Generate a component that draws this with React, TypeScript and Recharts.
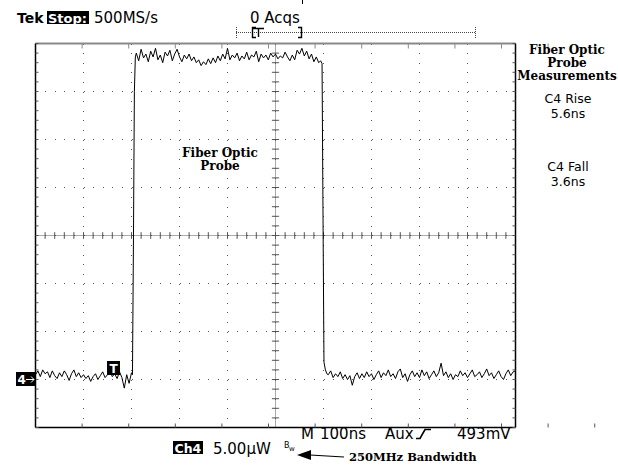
import { LineChart, Line, XAxis, YAxis, CartesianGrid, ReferenceLine } from 'recharts'

// sample spacing of the scope record, ns
const SAMPLE_NS = 5

// trace values in µW (5 µW/div, ground at the "4→" marker)
const BASE_BEFORE = [
  0.5, 0.9, 0.3, 1.0, 0.6, 0.8, 0.2, 0.9, 0.4, 0.1,
  0.7, 0.3, 0.9, 0.5, -0.1, 0.6, 1.0, 0.3, 0.7, 0.2,
  0.5, 0.1, 0.4, -0.2, 0.3, 0.6, 0.0, 0.4, 0.8, 0.2,
  0.5, 0.9, 0.3, 0.6, 0.1, 0.8, 0.2, -0.9, 0.5, -0.4,
  0.7,
] // t = 0..200 ns

const RISE_EDGE = [
  [202, 0.5],
  [204, 14],
  [206, 30],
  [208, 33.6],
]

const PULSE_TOP = [
  34.0, 33.2, 34.4, 33.5, 33.9, 33.1, 34.2, 33.6, 34.5, 33.3,
  33.8, 33.0, 34.1, 33.7, 34.3, 33.2, 33.9, 34.4, 33.6, 33.1,
  33.8, 33.4, 33.9, 33.2, 33.6, 33.0, 33.3, 32.7, 33.1, 32.8,
  33.4, 32.9, 33.5, 33.0, 33.7, 33.2, 33.9, 33.4, 34.5, 33.3,
  33.8, 33.5, 34.0, 33.2, 33.7, 33.4, 34.1, 33.3, 33.8, 33.6,
  34.2, 33.1, 33.9, 33.5, 33.8, 33.3, 34.0, 33.6, 33.9, 33.4,
  33.7, 33.5, 34.1, 33.6, 33.2, 33.8, 33.3, 34.3, 33.9, 34.5,
  33.7, 34.2, 33.4, 33.9, 33.1, 33.6, 33.0,
] // t = 210..590 ns

const FALL_EDGE = [
  [594, 33.2],
  [597, 32.9],
  [599, 17],
  [601, 1.8],
  [604, 1.0],
  [607, 0.6],
]

const BASE_AFTER = [
  0.5, 0.9, 0.2, 0.6, 0.3, 0.8, 0.1, 0.5, 0.0, 0.4,
  -0.6, 0.3, 0.7, 0.1, 0.6, 0.2, 0.8, 0.3, 0.6, 0.0,
  0.5, 0.9, 0.2, 0.7, 0.4, 1.0, 0.3, 0.6, 0.1, 0.8,
  1.1, 0.2, 0.6, -0.2, 0.5, 0.9, 0.3, 0.7, 0.2, 1.0,
  0.4, 0.8, 0.1, 0.5, 0.9, 0.3, 0.7, 1.7, 0.4, 0.8,
  0.2, 0.6, 0.0, 0.5, 0.3, 0.9, 0.4, 0.7, 0.2, 0.6,
  1.0, 0.3, 0.5, 0.8, 0.2, 0.6, 1.1, 0.4, 0.7, 0.1,
  0.5, 0.9, 0.3, 0.0, 0.6, 1.0, 0.4, 0.8, 0.9,
] // t = 610..1000 ns

// graticule: 10 x 8 divisions, 100 ns/div and 5 µW/div
const DIV_TICKS_T = [0, 100, 200, 300, 400, 500, 600, 700, 800, 900, 1000]
const DIV_TICKS_V = [-5, 0, 5, 10, 15, 20, 25, 30, 35]
const SUB_TICKS_T = Array.from({ length: 51 }, (_, i) => i * 20)
const SUB_TICKS_V = Array.from({ length: 41 }, (_, i) => i - 5)
const CENTER_T = 500
const CENTER_V = 15

type Pt = { t: number; v: number }
const fromRun = (start: number, values: number[]): Pt[] =>
  values.map((v, i) => ({ t: start + i * SAMPLE_NS, v }))
const fromPairs = (pairs: number[][]): Pt[] => pairs.map(([t, v]) => ({ t, v }))

const trace: Pt[] = [
  ...fromRun(0, BASE_BEFORE),
  ...fromPairs(RISE_EDGE),
  ...fromRun(210, PULSE_TOP),
  ...fromPairs(FALL_EDGE),
  ...fromRun(610, BASE_AFTER),
]

const GRID = '#555'
const SANS = '"DejaVu Sans", Verdana, sans-serif'
const SERIF = '"DejaVu Serif", serif'
const noLabel = () => ''

function Overlay() {
  return (
    <svg
      width={618}
      height={469}
      style={{ position: 'absolute', left: 0, top: 0, pointerEvents: 'none' }}
    >
      {/* header */}
      <text x={17} y={23} fontFamily={SANS} fontWeight="bold" fontSize={14}>Tek</text>
      <rect x={47} y={11} width={42} height={13} fill="#000" />
      <text x={48} y={22.5} fontFamily={SANS} fontWeight="bold" fontSize={13} fill="#fff">Stop:</text>
      <text x={94} y={23} fontFamily={SANS} fontSize={15}>500MS/s</text>
      <text x={250} y={23} fontFamily={SANS} fontSize={15}>0 Acqs</text>
      <line x1={302.5} y1={0} x2={302.5} y2={4} stroke="#000" />

      {/* record window bracket */}
      <line x1={236} y1={32.5} x2={475} y2={32.5} stroke="#444" strokeDasharray="1 1" />
      <line x1={236.5} y1={27} x2={236.5} y2={38} stroke="#444" strokeDasharray="1 1" />
      <line x1={475.5} y1={27} x2={475.5} y2={38} stroke="#444" strokeDasharray="1 1" />
      <path d="M256,27.5 H252.5 V37.5 H256 M252,28.5 H264 M258.5,28.5 V37" stroke="#000" fill="none" strokeWidth={1.4} />
      <path d="M298,27.5 H301.5 V37.5 H298" stroke="#000" fill="none" strokeWidth={1.4} />

      {/* right-hand measurement panel */}
      <g fontFamily={SERIF} fontWeight="bold" fontSize={12} textAnchor="middle">
        <text x={567} y={54}>Fiber Optic</text>
        <text x={567} y={67}>Probe</text>
        <text x={567} y={80}>Measurements</text>
      </g>
      <g fontFamily={SANS} fontSize={12.5} textAnchor="middle">
        <text x={568} y={103}>C4 Rise</text>
        <text x={568} y={118}>5.6ns</text>
        <text x={568} y={171}>C4 Fall</text>
        <text x={568} y={186}>3.6ns</text>
      </g>

      {/* in-plot annotation */}
      <g fontFamily={SERIF} fontWeight="bold" fontSize={12} textAnchor="middle">
        <text x={220} y={157}>Fiber Optic</text>
        <text x={220} y={170}>Probe</text>
      </g>

      {/* ground marker and trigger marker */}
      <rect x={16} y={372} width={20} height={14} fill="#000" />
      <text x={17.5} y={384} fontFamily={SANS} fontWeight="bold" fontSize={12} fill="#fff">4</text>
      <path d="M26,379.5 H34 M31,376.5 L34,379.5 L31,382.5" stroke="#fff" fill="none" />
      <rect x={107} y={361} width={13} height={14} fill="#000" />
      <text x={113.5} y={373} fontFamily={SANS} fontWeight="bold" fontSize={12} fill="#fff" textAnchor="middle">T</text>

      {/* bottom status line */}
      <g fontFamily={SANS} fontSize={15}>
        <text x={301} y={439}>M</text>
        <text x={320} y={439}>100ns</text>
        <text x={385} y={439}>Aux</text>
        <text x={457} y={439}>493mV</text>
      </g>
      <path d="M416,438.5 H420 L425,429.5 H431" stroke="#000" strokeWidth={1.6} fill="none" />
      <rect x={173} y={441} width={30} height={13} fill="#000" />
      <text x={174.5} y={452.5} fontFamily={SANS} fontWeight="bold" fontSize={12.5} fill="#fff">Ch4</text>
      <text x={213} y={454} fontFamily={SANS} fontSize={15}>5.00µW</text>
      <text x={284} y={448} fontFamily={SANS} fontSize={8}>B</text>
      <text x={289} y={451} fontFamily={SANS} fontSize={7}>w</text>
      <polygon points="297,455 311,450 311,460" fill="#000" />
      <line x1={310} y1={455} x2={344} y2={457} stroke="#000" strokeWidth={1.2} />
      <text x={349} y={461} fontFamily={SERIF} fontWeight="bold" fontSize={11.5}>250MHz Bandwidth</text>
    </svg>
  )
}

export default function App() {
  return (
    <div
      style={{
        position: 'absolute',
        left: 0,
        top: 0,
        width: 618,
        height: 469,
        background: '#fff',
        overflow: 'hidden',
      }}
    >
      <LineChart
        width={618}
        height={469}
        data={trace}
        margin={{ top: 43.5, right: 102.5, bottom: 41.5, left: 35.5 }}
      >
        <XAxis xAxisId={0} dataKey="t" type="number" domain={[0, 1000]} ticks={DIV_TICKS_T} hide />
        <YAxis yAxisId={0} type="number" domain={[-5, 35]} ticks={DIV_TICKS_V} hide />
        <CartesianGrid stroke={GRID} strokeDasharray="1 8.6" shapeRendering="crispEdges" />

        {/* center crosshair with 1/5 division ticks */}
        <ReferenceLine x={CENTER_T} stroke={GRID} strokeDasharray="1 1" />
        <ReferenceLine y={CENTER_V} stroke={GRID} strokeDasharray="1 1" />
        {SUB_TICKS_V.map(v => (
          <ReferenceLine
            key={`cv-${v}`}
            segment={[{ x: CENTER_T - 7.5, y: v }, { x: CENTER_T + 7.5, y: v }]}
            stroke={GRID}
          />
        ))}
        {SUB_TICKS_T.map(t => (
          <ReferenceLine
            key={`ct-${t}`}
            segment={[{ x: t, y: CENTER_V - 0.35 }, { x: t, y: CENTER_V + 0.35 }]}
            stroke={GRID}
          />
        ))}

        {/* frame with minor ticks pointing inward */}
        <XAxis
          xAxisId="top"
          orientation="top"
          type="number"
          domain={[0, 1000]}
          ticks={SUB_TICKS_T}
          mirror
          allowDataOverflow
          tickSize={5}
          tickFormatter={noLabel}
          axisLine={{ stroke: '#8a8a8a', strokeWidth: 2 }}
          tickLine={{ stroke: '#8a8a8a' }}
        />
        <XAxis
          xAxisId="bottom"
          orientation="bottom"
          type="number"
          domain={[0, 1000]}
          ticks={SUB_TICKS_T}
          mirror
          allowDataOverflow
          tickSize={4}
          tickFormatter={noLabel}
          axisLine={{ stroke: '#000', strokeWidth: 1.5 }}
          tickLine={{ stroke: GRID }}
        />
        <YAxis
          yAxisId="left"
          orientation="left"
          type="number"
          domain={[-5, 35]}
          ticks={SUB_TICKS_V}
          mirror
          allowDataOverflow
          tickSize={3}
          tickFormatter={noLabel}
          axisLine={{ stroke: '#000', strokeWidth: 1.5 }}
          tickLine={{ stroke: GRID }}
        />
        <YAxis
          yAxisId="right"
          orientation="right"
          type="number"
          domain={[-5, 35]}
          ticks={SUB_TICKS_V}
          mirror
          allowDataOverflow
          tickSize={3}
          tickFormatter={noLabel}
          axisLine={{ stroke: '#000', strokeWidth: 1.5 }}
          tickLine={{ stroke: GRID }}
        />

        <Line
          dataKey="v"
          type="linear"
          stroke="#000"
          strokeWidth={1}
          dot={false}
          isAnimationActive={false}
        />
      </LineChart>
      <Overlay />
    </div>
  )
}
